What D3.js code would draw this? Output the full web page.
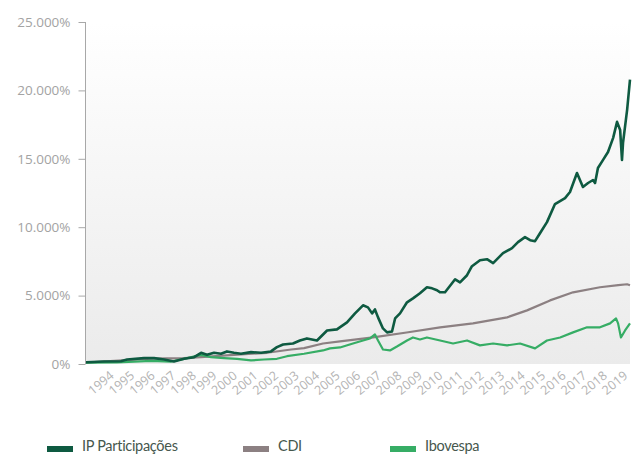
<!DOCTYPE html>
<html>
<head>
<meta charset="utf-8">
<script src="https://cdn.jsdelivr.net/npm/d3@7"></script>
<style>
html,body{margin:0;padding:0;background:#fff;}
svg{display:block;}
</style>
</head>
<body>
<svg id="chart" width="636" height="454"></svg>
<script>
// ---- data (decimal year, value in %) ----
const years = [1994,1995,1996,1997,1998,1999,2000,2001,2002,2003,2004,2005,2006,2007,2008,2009,2010,2011,2012,2013,2014,2015,2016,2017,2018,2019];
const yTicks = [0,5000,10000,15000,20000,25000];
const yTickLabels = ["0%","5.000%","10.000%","15.000%","20.000%","25.000%"];
const seriesNames = ["IP Participações","CDI","Ibovespa"];
const seriesColors = ["#0e5a41","#8c8082","#36ad65"];

const ipT = [1992.70,1993.58,1994.40,1994.70,1995.52,1996.01,1996.50,1996.98,1997.47,1997.96,1998.30,1998.59,1998.93,1999.27,1999.56,1999.90,2000.24,2000.73,2001.22,2001.70,2001.99,2002.29,2002.77,2003.11,2003.45,2003.94,2004.43,2004.91,2005.40,2005.79,2006.18,2006.42,2006.62,2006.76,2006.91,2007.15,2007.35,2007.59,2007.74,2007.98,2008.32,2008.61,2008.95,2009.29,2009.54,2009.78,2009.93,2010.17,2010.66,2010.90,2011.24,2011.48,2011.87,2012.21,2012.51,2012.99,2013.43,2013.72,2014.06,2014.31,2014.55,2014.79,2015.13,2015.52,2016.01,2016.25,2016.59,2016.88,2017.13,2017.37,2017.47,2017.61,2017.86,2018.10,2018.35,2018.54,2018.69,2018.78,2018.83,2019.03,2019.17];
const ipV = [130,180,200,330,430,430,330,180,380,500,820,670,820,750,920,820,750,870,820,920,1230,1430,1500,1720,1870,1720,2450,2530,3040,3700,4290,4140,3700,3990,3410,2600,2310,2380,3330,3700,4510,4800,5170,5610,5530,5390,5240,5240,6190,5970,6490,7150,7590,7660,7370,8100,8470,8910,9270,9050,8980,9560,10370,11690,12130,12570,13960,12940,13230,13450,13230,14330,14920,15500,16530,17700,17110,14920,16160,18580,20780];

const cdiT = [1992.70,1995.86,1997.47,1998.30,1999.90,2001.51,2002.68,2003.31,2004.23,2005.06,2006.67,2008.30,2009.93,2011.53,2013.19,2014.16,2015.28,2016.40,2017.71,2018.60,2019.03,2019.17];
const cdiV = [100,400,430,500,670,820,1060,1160,1500,1650,1940,2300,2680,2970,3410,3920,4650,5240,5610,5760,5830,5760];

const iboT = [1992.70,1994.21,1995.86,1996.84,1997.47,1998.30,1998.78,1999.42,2000.05,2000.73,2001.36,2001.99,2002.48,2003.31,2004.23,2004.57,2005.06,2005.69,2006.18,2006.52,2006.76,2006.91,2007.15,2007.49,2007.83,2008.32,2008.61,2008.95,2009.29,2009.93,2010.56,2011.24,2011.87,2012.51,2013.19,2013.82,2014.55,2015.13,2015.77,2016.40,2017.08,2017.71,2018.20,2018.49,2018.59,2018.73,2018.93,2019.17];
const iboV = [100,110,230,180,380,670,500,430,380,260,330,380,570,750,990,1140,1210,1500,1720,1870,2160,1720,1060,990,1280,1720,1940,1790,1940,1720,1500,1720,1360,1500,1360,1500,1140,1720,1940,2310,2680,2680,2970,3330,2970,1940,2450,2970];

// ---- layout ----
const svg = d3.select("#chart");
const mLeft = 86, mRight = 630, mTop = 22, mBottom = 364;
const x = d3.scaleLinear().domain([1992.7, 2019.17]).range([mLeft, mRight]);
const y = d3.scaleLinear().domain([0, 25000]).range([mBottom, mTop]);

const defs = svg.append("defs");
const grad = defs.append("linearGradient").attr("id","bg").attr("x1",0).attr("y1",0).attr("x2",0).attr("y2",1);
grad.append("stop").attr("offset","0%").attr("stop-color","#ffffff");
grad.append("stop").attr("offset","100%").attr("stop-color","#ebebeb");

svg.append("rect").attr("x", mLeft).attr("y", mTop).attr("width", mRight-mLeft).attr("height", mBottom-mTop).attr("fill","url(#bg)");

// y axis
const yAxis = d3.axisLeft(y).tickValues(yTicks).tickSize(7).tickPadding(8)
  .tickFormat((d,i)=>yTickLabels[i]);
const gy = svg.append("g").attr("transform",`translate(${mLeft-0.5},0)`).call(yAxis);
gy.select(".domain").attr("stroke","#a8a8a8").attr("d",`M0,${mTop}V${mBottom}`);
gy.selectAll(".tick line").attr("stroke","#a8a8a8");
gy.selectAll(".tick text").attr("fill","#a3a3a3").style("font-family","'Open Sans', sans-serif").style("font-size","13.5px");

// x labels
const gx = svg.append("g");
gx.selectAll("text").data(years).enter().append("text")
  .attr("transform", d=>`translate(${x(d)+2},${mBottom+13}) rotate(-40)`)
  .attr("text-anchor","end")
  .attr("fill","#b3b3b3")
  .style("font-family","'Open Sans', sans-serif")
  .style("font-size","12.5px")
  .text(d=>d);

// lines
const line = d3.line().x(d=>x(d[0])).y(d=>y(d[1]));
const series = [
  {t: cdiT, v: cdiV, c: seriesColors[1], w: 2.2},
  {t: iboT, v: iboV, c: seriesColors[2], w: 2.2},
  {t: ipT, v: ipV, c: seriesColors[0], w: 2.6}
];
series.forEach(s=>{
  svg.append("path").datum(s.t.map((t,i)=>[t,s.v[i]]))
    .attr("fill","none").attr("stroke",s.c).attr("stroke-width",s.w)
    .attr("stroke-linejoin","round").attr("d",line);
});

// legend
const legX = [47, 243, 390];
const lg = svg.append("g");
seriesNames.forEach((n,i)=>{
  lg.append("rect").attr("x",legX[i]).attr("y",446).attr("width",26).attr("height",6).attr("fill",seriesColors[i]);
  lg.append("text").attr("x",legX[i]+35).attr("y",450.5)
    .attr("fill","#46574d")
    .style("font-family","Lato, sans-serif")
    .style("font-size","14.5px")
    .style("letter-spacing","-0.3px")
    .text(n);
});
</script>
</body>
</html>
